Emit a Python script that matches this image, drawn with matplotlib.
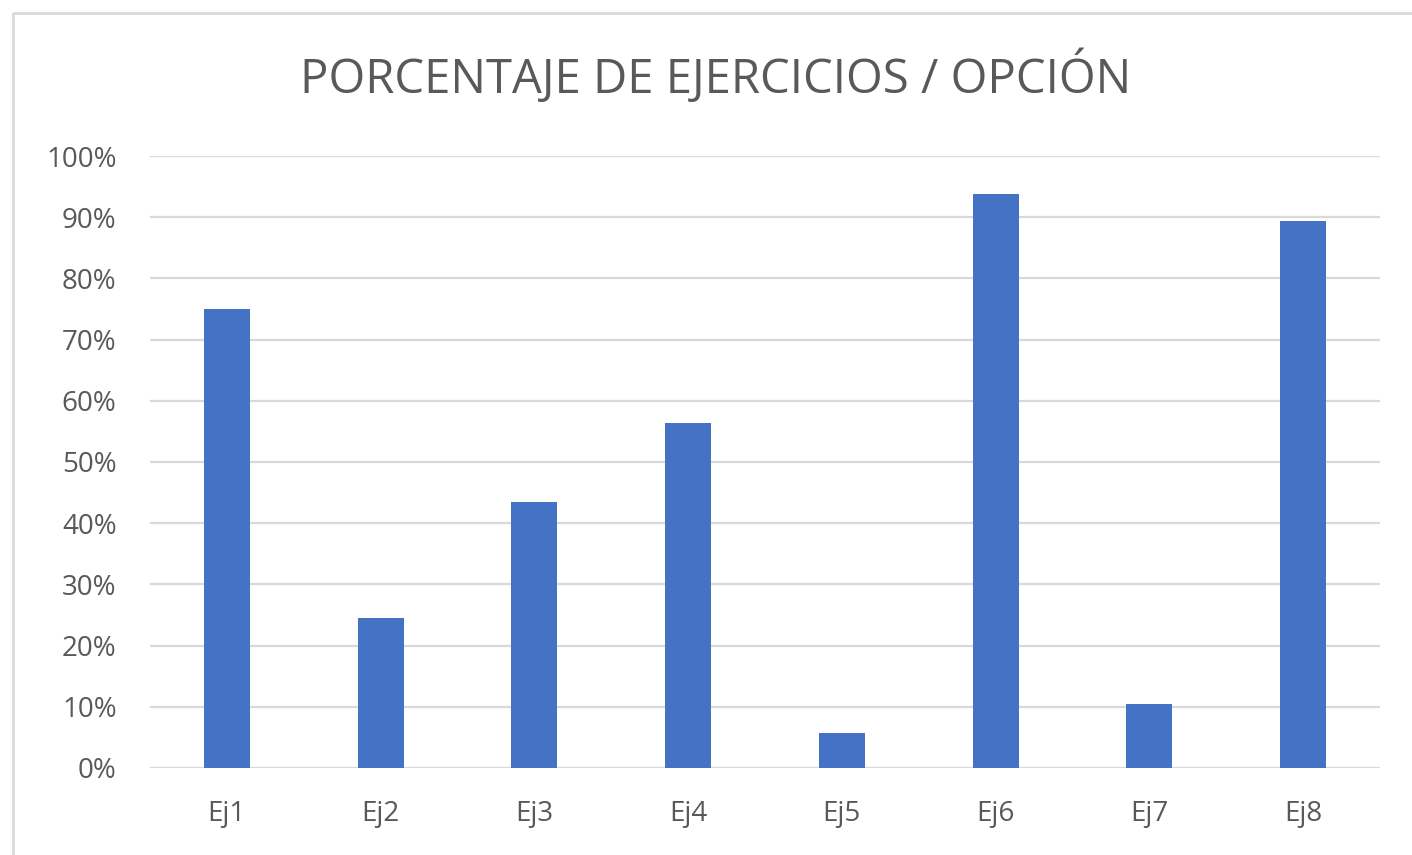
import matplotlib.pyplot as plt
from matplotlib.ticker import PercentFormatter
from matplotlib.lines import Line2D

# === Data ===
categories = ["Ej1", "Ej2", "Ej3", "Ej4", "Ej5", "Ej6", "Ej7", "Ej8"]
values = [75.0, 24.5, 43.5, 56.4, 5.7, 93.8, 10.5, 89.4]
yticks = [0, 10, 20, 30, 40, 50, 60, 70, 80, 90, 100]

plt.rcParams['font.family'] = ['Open Sans', 'DejaVu Sans']
text_col = "#595959"

fig = plt.figure(figsize=(14.12, 8.55), dpi=100)
ax = fig.add_axes([0.1062, 0.1018, 0.8711, 0.7157])

ax.bar(categories, values, width=0.3, color="#4472C4", zorder=3)

ax.set_xlim(-0.5, len(categories) - 0.5)
ax.set_ylim(0, 100)
ax.set_yticks(yticks)
ax.yaxis.set_major_formatter(PercentFormatter(decimals=0))
ax.grid(axis="y", color="#d9d9d9", linewidth=1.6, zorder=0)
for s in ax.spines.values():
    s.set_visible(False)
ax.tick_params(axis="both", length=0, labelsize=20, colors=text_col)
ax.tick_params(axis="y", pad=24)
ax.tick_params(axis="x", pad=23)

fig.text(0.507, 0.91, "PORCENTAJE DE EJERCICIOS / OPCIÓN", ha="center", va="center",
         fontsize=34, color=text_col)

# chart border (Excel style)
fig.add_artist(Line2D([13 / 1412, 13 / 1412, 1.0], [0.0, 1 - 13 / 855, 1 - 13 / 855],
                      transform=fig.transFigure, color="#d9d9d9", linewidth=2))

fig.savefig("out.png", dpi=100)
